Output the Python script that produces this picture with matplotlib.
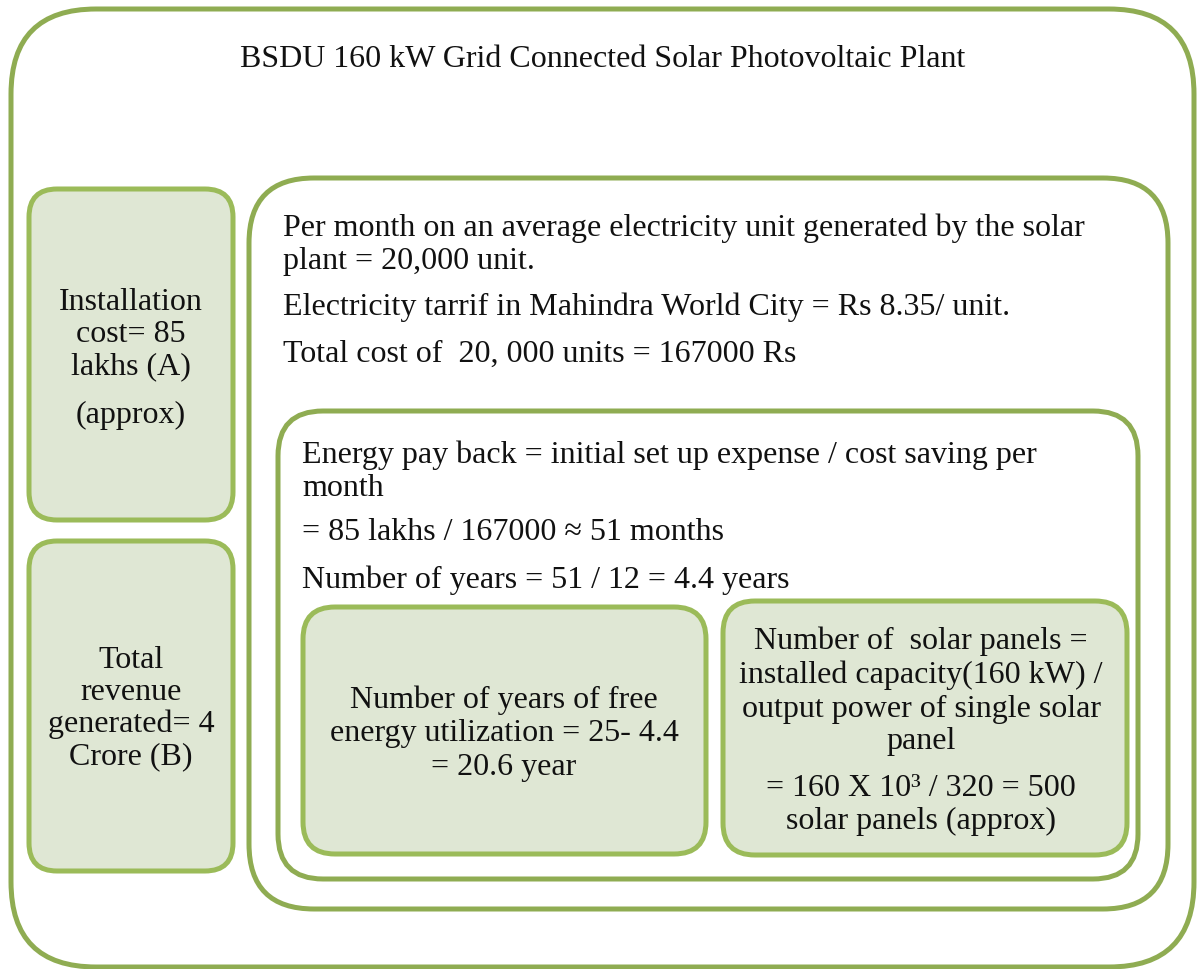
import matplotlib
matplotlib.use("Agg")
import matplotlib.pyplot as plt
from matplotlib.patches import FancyBboxPatch

W, H = 1198, 969
_DARK = "#8fac52"
_EDGE = "#9bbb59"
_FILL = "#dfe7d4"
_FONT = "Liberation Serif"

title = "BSDU 160 kW Grid Connected Solar Photovoltaic Plant"
install_lines = ["Installation", "cost= 85", "lakhs (A)"]
install_note = "(approx)"
revenue_lines = ["Total", "revenue", "generated= 4", "Crore (B)"]
plant_lines = [
    "Per month on an average electricity unit generated by the solar",
    "plant = 20,000 unit.",
    "Electricity tarrif in Mahindra World City = Rs 8.35/ unit.",
    "Total cost of  20, 000 units = 167000 Rs",
]
payback_lines = [
    "Energy pay back = initial set up expense / cost saving per",
    "month",
    "= 85 lakhs / 167000 \u2248 51 months",
    "Number of years = 51 / 12 = 4.4 years",
]
free_lines = ["Number of years of free", "energy utilization = 25- 4.4", "= 20.6 year"]
panel_lines = [
    "Number of  solar panels =",
    "installed capacity(160 kW) /",
    "output power of single solar",
    "panel",
    "= 160 X 10\u00b3 / 320 = 500",
    "solar panels (approx)",
]

fig = plt.figure(figsize=(W / 100, H / 100), dpi=100)
ax = fig.add_axes([0, 0, 1, 1])
ax.set_xlim(0, W)
ax.set_ylim(H, 0)
ax.axis("off")


def box(x0, y0, x1, y1, r, edge, fill="white", lw=3.6):
    ax.add_patch(FancyBboxPatch((x0, y0), x1 - x0, y1 - y0,
                                boxstyle=f"round,pad=0,rounding_size={r}",
                                facecolor=fill, edgecolor=edge, linewidth=lw))


def lines(texts, x, ys, ha="left"):
    for t, y in zip(texts, ys):
        ax.text(x, y + 3, t, ha=ha, va="center", fontsize=23, family=_FONT, color="#111111")


# frames
box(11, 9, 1194, 967, 85, _DARK)
box(249, 178, 1168, 909, 65, _DARK)
box(278, 411, 1138, 879, 45, _DARK)
box(29, 189, 233, 520, 28, _EDGE, _FILL)
box(29, 541, 233, 871, 28, _EDGE, _FILL)
box(303, 607, 706, 854, 32, _EDGE, _FILL)
box(723, 601, 1127, 855, 32, _EDGE, _FILL)

ax.text(603, 59, title, ha="center", va="center", fontsize=23, family=_FONT, color="#111111")

lines(install_lines, 131, [299, 331, 364], ha="center")
lines([install_note], 131, [412], ha="center")
lines(revenue_lines, 131, [657, 689, 721, 754], ha="center")
lines(plant_lines, 283, [225, 258, 304, 351])
lines(payback_lines, 302, [452, 485, 530, 577])
lines(free_lines, 504, [697, 731, 764], ha="center")
lines(panel_lines, 921, [638, 672, 706, 739, 785, 818], ha="center")

fig.savefig("out.png", dpi=100)
plt.close(fig)
